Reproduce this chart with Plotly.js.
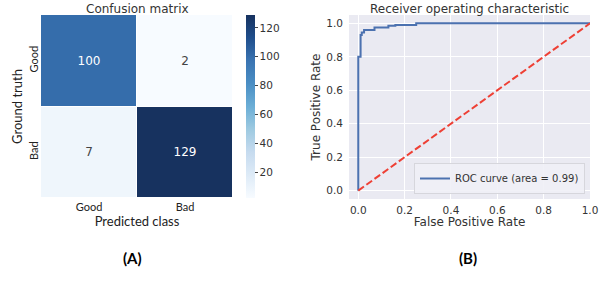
<!DOCTYPE html>
<html>
<head>
<meta charset="utf-8">
<script src="https://cdn.plot.ly/plotly-3.0.1.min.js"></script>
<style>html,body{margin:0;padding:0;background:#fff}#chart{width:602px;height:281px}</style>
</head>
<body>
<div id="chart"></div>
<script>
// Confusion matrix data
const predictedClasses = ["Good", "Bad"];
const truthClasses = ["Good", "Bad"];
const confusionValues = [[100, 2], [7, 129]];
const colorbarTicks = [20, 40, 60, 80, 100, 120];

// ROC data
const fpr = [0, 0, 0.01, 0.01, 0.015, 0.015, 0.025, 0.025, 0.07, 0.07, 0.13, 0.13, 0.16, 0.16, 0.25, 0.25, 1.0];
const tpr = [0, 0.80, 0.80, 0.93, 0.93, 0.945, 0.945, 0.96, 0.96, 0.975, 0.975, 0.985, 0.985, 0.99, 0.99, 1.0, 1.0];
const chanceX = [0, 1];
const chanceY = [0, 1];
const rocTicks = [0, 0.2, 0.4, 0.6, 0.8, 1.0];
const rocTickText = ["0.0", "0.2", "0.4", "0.6", "0.8", "1.0"];
const rocArea = 0.99;

const W = 602, H = 281;
const px = v => v / W;
const py = v => 1 - v / H;

const blues = [
  [0.0, '#f7fbff'], [0.125, '#deebf7'], [0.25, '#c6dbef'], [0.375, '#9ecae1'],
  [0.5, '#6baed6'], [0.625, '#4a8ec4'], [0.75, '#3a74b2'], [0.875, '#1f4e8c'], [1.0, '#17325f']
];

const calib = "Lato, 'Open Sans', sans-serif";
const dv = "'DejaVu Sans', sans-serif";

const traces = [
  {
    type: 'heatmap',
    x: predictedClasses,
    y: truthClasses,
    z: confusionValues,
    colorscale: blues,
    zmin: 2, zmax: 129,
    xgap: 1, ygap: 1,
    texttemplate: '%{z}',
    textfont: {family: dv, size: 12},
    hoverinfo: 'skip',
    xaxis: 'x', yaxis: 'y',
    colorbar: {
      x: px(246), xanchor: 'left',
      y: py(106.5), yanchor: 'middle',
      len: 183, lenmode: 'pixels',
      thickness: 9, outlinewidth: 0,
      tickvals: colorbarTicks,
      ticks: 'outside', ticklen: 3, tickcolor: '#444',
      tickfont: {family: dv, size: 10.5, color: '#333'},
      xpad: 0, ypad: 0
    }
  },
  {
    type: 'scatter', mode: 'lines',
    x: fpr, y: tpr,
    name: 'ROC curve (area = ' + rocArea.toFixed(2) + ')',
    line: {color: '#4C72B0', width: 2},
    xaxis: 'x2', yaxis: 'y2'
  },
  {
    type: 'scatter', mode: 'lines',
    x: chanceX, y: chanceY,
    showlegend: false,
    line: {color: '#ee4035', width: 2, dash: '7px,3px'},
    xaxis: 'x2', yaxis: 'y2'
  }
];

const layout = {
  width: W, height: H,
  margin: {l: 0, r: 0, t: 0, b: 0},
  paper_bgcolor: '#fff',
  plot_bgcolor: '#fff',
  showlegend: true,
  xaxis: {
    domain: [px(41), px(233)],
    showgrid: false, zeroline: false, ticks: '', showline: false,
    tickfont: {family: calib, size: 11, color: '#222'},
    ticklabelstandoff: 1,
    title: {text: 'Predicted class', font: {family: calib, size: 13, color: '#222'}, standoff: 4}
  },
  yaxis: {
    domain: [py(198), py(15)],
    autorange: 'reversed',
    showgrid: false, zeroline: false, ticks: '', showline: false,
    tickangle: -90,
    ticklabelstandoff: 0,
    tickfont: {family: calib, size: 11, color: '#222'},
    title: {text: 'Ground truth', font: {family: calib, size: 13, color: '#222'}, standoff: 1}
  },
  xaxis2: {
    domain: [px(349), px(590)],
    anchor: 'y2',
    range: [-0.04, 1.0],
    tickvals: rocTicks, ticktext: rocTickText,
    showgrid: true, gridcolor: '#ffffff', gridwidth: 1,
    zeroline: false, ticks: '', showline: false,
    ticklabelstandoff: 3,
    tickfont: {family: dv, size: 10.5, color: '#333'},
    title: {text: 'False Positive Rate', font: {family: dv, size: 12, color: '#333'}, standoff: 1}
  },
  yaxis2: {
    domain: [py(199), py(15)],
    anchor: 'x2',
    range: [-0.05, 1.05],
    tickvals: rocTicks, ticktext: rocTickText,
    showgrid: true, gridcolor: '#ffffff', gridwidth: 1,
    zeroline: false, ticks: '', showline: false,
    ticklabelstandoff: 5,
    tickfont: {family: dv, size: 10.5, color: '#333'},
    title: {text: 'True Positive Rate', font: {family: dv, size: 12, color: '#333'}, standoff: 3}
  },
  shapes: [
    {type: 'rect', xref: 'x2 domain', yref: 'y2 domain', x0: 0, x1: 1, y0: 0, y1: 1,
     fillcolor: '#EAEAF2', line: {width: 0}, layer: 'below'}
  ],
  legend: {
    x: px(585), xanchor: 'right',
    y: py(194), yanchor: 'bottom',
    bgcolor: 'rgba(240,240,246,0.9)',
    bordercolor: '#d6d6dc', borderwidth: 1,
    font: {family: dv, size: 10, color: '#333'},
    tracegroupgap: 0,
    itemwidth: 30
  },
  annotations: [
    {text: 'Confusion matrix', xref: 'paper', yref: 'paper', x: px(137), y: py(9),
     xanchor: 'center', yanchor: 'middle', showarrow: false,
     font: {family: dv, size: 12, color: '#333'}},
    {text: 'Receiver operating characteristic', xref: 'paper', yref: 'paper', x: px(469), y: py(9),
     xanchor: 'center', yanchor: 'middle', showarrow: false,
     font: {family: dv, size: 12, color: '#333'}},
    {text: '<b>(A)</b>', xref: 'paper', yref: 'paper', x: px(132), y: py(258),
     xanchor: 'center', yanchor: 'middle', showarrow: false,
     font: {family: calib, size: 15, color: '#000'}},
    {text: '<b>(B)</b>', xref: 'paper', yref: 'paper', x: px(468), y: py(258),
     xanchor: 'center', yanchor: 'middle', showarrow: false,
     font: {family: calib, size: 15, color: '#000'}}
  ]
};

Plotly.newPlot('chart', traces, layout, {displayModeBar: false, staticPlot: true});
</script>
</body>
</html>
